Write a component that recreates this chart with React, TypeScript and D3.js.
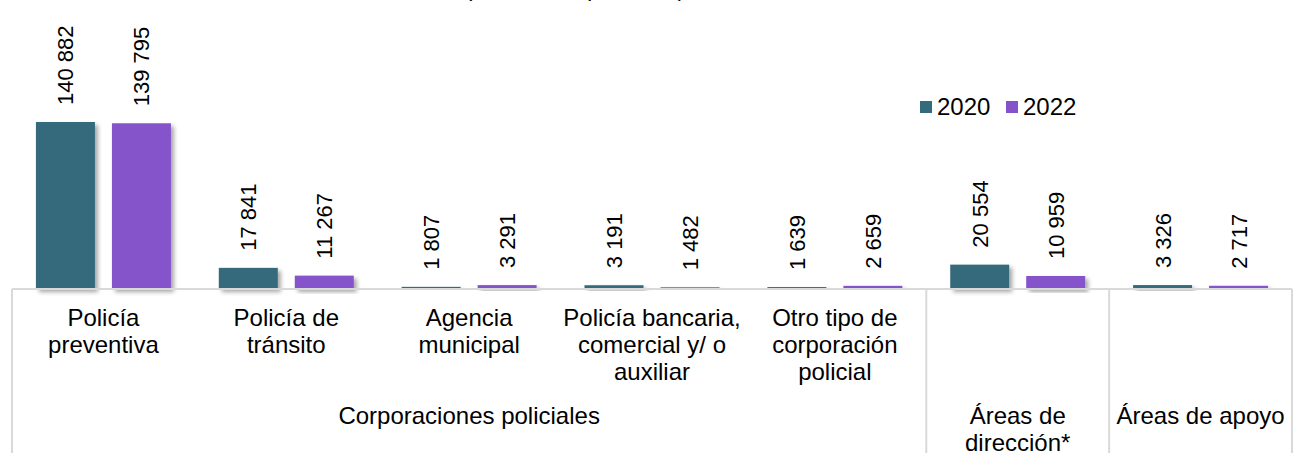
import React from "react";
import * as d3 from "d3";

const categories = [
  "Policía preventiva",
  "Policía de tránsito",
  "Agencia municipal",
  "Policía bancaria, comercial y/ o auxiliar",
  "Otro tipo de corporación policial",
  "Áreas de dirección*",
  "Áreas de apoyo",
];
const categoryLines = [
  ["Policía", "preventiva"],
  ["Policía de", "tránsito"],
  ["Agencia", "municipal"],
  ["Policía bancaria,", "comercial y/ o", "auxiliar"],
  ["Otro tipo de", "corporación", "policial"],
  [],
  [],
];
const values2020 = [140882, 17841, 1807, 3191, 1639, 20554, 3326];
const values2022 = [139795, 11267, 3291, 1482, 2659, 10959, 2717];
const seriesNames = ["2020", "2022"];
const seriesColors = ["#346B7C", "#8552CA"];
const groups = [
  { lines: ["Corporaciones policiales"], from: 0, to: 4 },
  { lines: ["Áreas de", "dirección*"], from: 5, to: 5 },
  { lines: ["Áreas de apoyo"], from: 6, to: 6 },
];
const title = "(Número de personas)";

const fmt = (v: number) => d3.format(",")(v).replace(/,/g, " ");

export default function App() {
  const W = 1298;
  const H = 453;
  const left = 12;
  const right = 1292;
  const baseY = 289;
  const font = "'Liberation Sans', Arial, sans-serif";

  const x = d3.scaleBand<string>().domain(categories).range([left, right]).padding(0);
  const step = x.step();
  const xs = d3
    .scaleBand<string>()
    .domain(seriesNames)
    .range([0, step])
    .paddingInner(0.2237)
    .paddingOuter(0.315);
  const y = d3.scaleLinear().domain([0, 150000]).range([baseY, baseY - 150000 * 0.0011854]);

  const series = [values2020, values2022];
  const gridColor = "#d9d9d9";

  return (
    <svg
      width={W}
      height={H}
      style={{ position: "absolute", left: 0, top: 0, background: "#fff" }}
      fontFamily={font}
    >
      <defs>
        <filter id="shadow" x="-20%" y="-20%" width="150%" height="150%">
          <feDropShadow dx="3" dy="3" stdDeviation="2" floodColor="#000" floodOpacity="0.35" />
        </filter>
      </defs>
      <rect x={0} y={0} width={W} height={H} fill="#fff" />
      <text x={575} y={-4} textAnchor="middle" fontSize={22} fill="#000">
        {title}
      </text>

      {/* bars */}
      {categories.map((c, i) =>
        series.map((vals, s) => {
          const bx = (x(c) ?? 0) + (xs(seriesNames[s]) ?? 0);
          const top = y(vals[i]);
          return (
            <rect
              key={c + s}
              x={bx}
              y={top}
              width={xs.bandwidth()}
              height={Math.max(baseY - top, 1)}
              fill={seriesColors[s]}
              filter="url(#shadow)"
            />
          );
        })
      )}

      {/* value labels */}
      {categories.map((c, i) =>
        series.map((vals, s) => {
          const cx = (x(c) ?? 0) + (xs(seriesNames[s]) ?? 0) + xs.bandwidth() / 2;
          const ty = y(vals[i]) - 17;
          return (
            <text
              key={"l" + c + s}
              transform={`translate(${cx + 8},${ty}) rotate(-90)`}
              fontSize={22}
              fill="#000"
              textAnchor="start"
            >
              {fmt(vals[i])}
            </text>
          );
        })
      )}

      {/* axis lines */}
      <line x1={left} x2={right} y1={baseY} y2={baseY} stroke={gridColor} strokeWidth={2} />
      <line x1={left} x2={left} y1={baseY} y2={H} stroke={gridColor} strokeWidth={2} />
      <line x1={right} x2={right} y1={baseY} y2={H} stroke={gridColor} strokeWidth={2} />
      {groups.slice(1).map((g) => (
        <line
          key={"d" + g.from}
          x1={x(categories[g.from]) ?? 0}
          x2={x(categories[g.from]) ?? 0}
          y1={baseY}
          y2={H}
          stroke={gridColor}
          strokeWidth={2}
        />
      ))}

      {/* category labels */}
      {categories.map((c, i) => (
        <text key={"c" + c} textAnchor="middle" fontSize={24} fill="#000">
          {categoryLines[i].map((ln, k) => (
            <tspan key={k} x={(x(c) ?? 0) + step / 2} y={326 + k * 27}>
              {ln}
            </tspan>
          ))}
        </text>
      ))}

      {/* group labels */}
      {groups.map((g) => {
        const gx0 = x(categories[g.from]) ?? 0;
        const gx1 = (x(categories[g.to]) ?? 0) + step;
        return (
          <text key={"g" + g.from} textAnchor="middle" fontSize={24} fill="#000">
            {g.lines.map((ln, k) => (
              <tspan key={k} x={(gx0 + gx1) / 2} y={424 + k * 27}>
                {ln}
              </tspan>
            ))}
          </text>
        );
      })}

      {/* legend */}
      {seriesNames.map((n, s) => {
        const lx = s === 0 ? 920 : 1006;
        return (
          <g key={"lg" + n}>
            <rect x={lx} y={101} width={12} height={12} fill={seriesColors[s]} />
            <text x={lx + 17} y={115} fontSize={24} fill="#000">
              {n}
            </text>
          </g>
        );
      })}
    </svg>
  );
}
